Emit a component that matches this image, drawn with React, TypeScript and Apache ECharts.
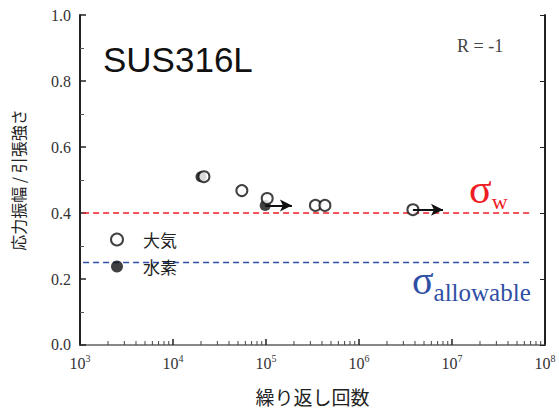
import React, { useEffect, useRef } from "react";
import * as echarts from "echarts";

// ---- data ----
const airSeriesName = "大気";
const h2SeriesName = "水素";
// open circles (air): [cycles, stress ratio]
const airPoints: [number, number][] = [
  [2.15e4, 0.51],
  [5.5e4, 0.468],
  [1.03e5, 0.444],
  [3.4e5, 0.423],
  [4.3e5, 0.423],
  [3.8e6, 0.41],
];
// filled circles (hydrogen)
const h2Points: [number, number][] = [
  [2.0e4, 0.51],
  [9.8e4, 0.423],
];
// run-out arrows: [from, to]
const airRunouts: [[number, number], [number, number]][] = [
  [[3.8e6, 0.41], [8.0e6, 0.41]],
];
const h2Runouts: [[number, number], [number, number]][] = [
  [[9.8e4, 0.423], [1.9e5, 0.423]],
];
const sigmaW = 0.4;
const sigmaAllowable = 0.25;
const limitLineSpan: [number, number] = [1.08e3, 7.4e7];
const xMin = 1e3;
const xMax = 1e8;
const decades = [3, 4, 5, 6, 7];
const minorMultipliers = [2, 3, 4, 5, 6, 7, 8, 9];
const yAxisName = "応力振幅 / 引張強さ";
const xAxisName = "繰り返し回数";

const minorTickValues: [number, number][] = [];
decades.forEach((d) =>
  minorMultipliers.forEach((m) => minorTickValues.push([m * Math.pow(10, d), 0]))
);

const serif = "Liberation Serif";
const cjk = "Noto Sans CJK JP";

export default function App() {
  const ref = useRef<HTMLDivElement>(null);
  useEffect(() => {
    if (!ref.current) return;
    const chart = echarts.init(ref.current, undefined, { renderer: "svg" });
    const arrowLine = (segs: [[number, number], [number, number]][]) => ({
      silent: true,
      symbol: ["none", "arrow"],
      symbolSize: [9, 12],
      label: { show: false },
      lineStyle: { color: "#111", type: "solid", width: 2 },
      data: segs.map((s) => [{ coord: s[0] }, { coord: s[1] }]),
    });
    chart.setOption({
      animation: false,
      backgroundColor: "#fff",
      grid: { left: 80, right: 14, top: 15, bottom: 63 },
      legend: {
        data: [airSeriesName, h2SeriesName],
        orient: "vertical",
        left: 105,
        top: 226,
        itemWidth: 12,
        itemHeight: 12,
        itemGap: 10,
        textStyle: { fontSize: 17, fontFamily: cjk, color: "#222", padding: [0, 0, 0, 15] },
      },
      xAxis: [
        {
          type: "log",
          logBase: 10,
          min: xMin,
          max: xMax,
          name: xAxisName,
          nameLocation: "middle",
          nameGap: 42,
          nameTextStyle: { fontSize: 19, fontFamily: cjk, color: "#222" },
          axisLine: { lineStyle: { color: "#222", width: 2 } },
          axisTick: { inside: true, length: 6, lineStyle: { color: "#222", width: 1.5 } },
          splitLine: { show: false },
          axisLabel: {
            margin: 9,
            formatter: (v: number) => `{b|10}{s|${Math.round(Math.log10(v))}}`,
            rich: {
              b: { fontSize: 16, fontFamily: serif, color: "#333", lineHeight: 20 },
              s: { fontSize: 10, fontFamily: serif, color: "#333", verticalAlign: "top", lineHeight: 10 },
            },
          },
        },
        {
          type: "log",
          logBase: 10,
          min: xMin,
          max: xMax,
          position: "top",
          axisLine: { show: true, lineStyle: { color: "#aaa", width: 1.5 } },
          axisTick: { show: false },
          axisLabel: { show: false },
          splitLine: { show: false },
        },
      ],
      yAxis: [
        {
          type: "value",
          min: 0,
          max: 1,
          interval: 0.2,
          name: yAxisName,
          nameLocation: "middle",
          nameGap: 54,
          nameRotate: 90,
          nameTextStyle: { fontSize: 16, fontFamily: cjk, color: "#222" },
          axisLine: { show: true, lineStyle: { color: "#222", width: 2 } },
          axisTick: { show: true, inside: true, length: 6, lineStyle: { color: "#222", width: 1.5 } },
          minorTick: { show: true, splitNumber: 2, length: 4, lineStyle: { color: "#555" } },
          splitLine: { show: false },
          axisLabel: {
            margin: 9,
            fontSize: 16,
            fontFamily: serif,
            color: "#333",
            formatter: (v: number) => v.toFixed(1),
          },
        },
        {
          type: "value",
          min: 0,
          max: 1,
          interval: 0.2,
          position: "right",
          axisLine: { show: true, lineStyle: { color: "#222", width: 2 } },
          axisTick: { show: true, inside: true, length: 5, lineStyle: { color: "#222" } },
          axisLabel: { show: false },
          splitLine: { show: false },
        },
      ],
      series: [
        {
          name: "minor",
          type: "custom",
          silent: true,
          data: minorTickValues,
          encode: { x: 0, y: 1 },
          renderItem: (_p: any, api: any) => {
            const pt = api.coord([api.value(0), 0]);
            return {
              type: "line",
              shape: { x1: pt[0], y1: pt[1], x2: pt[0], y2: pt[1] - 4 },
              style: { stroke: "#444", lineWidth: 1 },
            };
          },
        },
        {
          name: "σw",
          type: "line",
          silent: true,
          symbol: "none",
          data: [
            [limitLineSpan[0], sigmaW],
            [limitLineSpan[1], sigmaW],
          ],
          lineStyle: { color: "#ee1c24", width: 1.5, type: [6, 4] },
          z: 1,
        },
        {
          name: "σallowable",
          type: "line",
          silent: true,
          symbol: "none",
          data: [
            [limitLineSpan[0], sigmaAllowable],
            [limitLineSpan[1], sigmaAllowable],
          ],
          lineStyle: { color: "#2f4fa5", width: 1.5, type: [6, 4] },
          z: 1,
        },
        {
          name: h2SeriesName,
          type: "scatter",
          symbol: "circle",
          symbolSize: 11,
          itemStyle: { color: "#111" },
          data: h2Points,
          markLine: arrowLine(h2Runouts),
          z: 3,
        },
        {
          name: airSeriesName,
          type: "scatter",
          symbol: "emptyCircle",
          symbolSize: 11,
          itemStyle: { color: "#111", borderWidth: 2 },
          data: airPoints,
          markLine: arrowLine(airRunouts),
          z: 4,
        },
      ],
      graphic: [
        {
          type: "text",
          left: 103,
          top: 42,
          style: { text: "SUS316L", fontSize: 35, fontFamily: "Liberation Sans", fill: "#111" },
        },
        {
          type: "text",
          left: 457,
          top: 37,
          style: { text: "R = -1", fontSize: 18, fontFamily: serif, fill: "#444" },
        },
        {
          type: "text",
          left: 469,
          top: 168,
          style: {
            text: "{s|σ}{w|w}",
            rich: {
              s: { fontSize: 42, fontFamily: serif, fill: "#ee1c24", lineHeight: 40, verticalAlign: "bottom" },
              w: { fontSize: 22, fontFamily: serif, fill: "#ee1c24", verticalAlign: "bottom", padding: [0, 0, -2, 0] },
            },
          },
        },
        {
          type: "text",
          left: 412,
          top: 260,
          style: {
            text: "{s|σ}{w|allowable}",
            rich: {
              s: { fontSize: 40, fontFamily: serif, fill: "#2f4fa5", lineHeight: 38, verticalAlign: "bottom" },
              w: { fontSize: 25, fontFamily: serif, fill: "#2f4fa5", verticalAlign: "bottom", padding: [0, 0, -5, 0] },
            },
          },
        },
      ],
    });
    return () => chart.dispose();
  }, []);
  return (
    <div
      ref={ref}
      style={{ position: "fixed", left: 0, top: 0, width: 559, height: 411 }}
    />
  );
}
